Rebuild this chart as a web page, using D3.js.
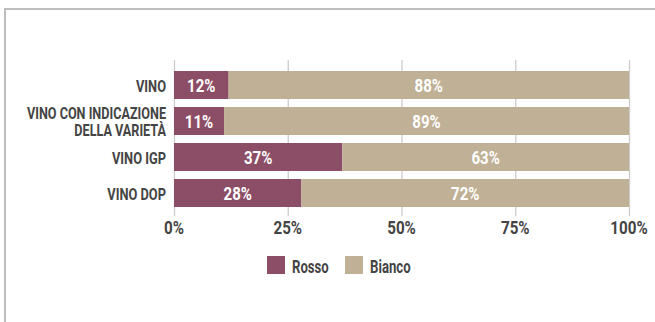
<!DOCTYPE html>
<html><head><meta charset="utf-8">
<script src="https://cdn.jsdelivr.net/npm/d3@7"></script>
<style>
html,body{margin:0;padding:0;background:#fff;}
svg{display:block;}
text{font-family:Roboto,"Noto Sans",sans-serif;font-weight:bold;}
</style></head>
<body>
<svg id="c" width="655" height="322"></svg>
<script>
const categories = [["VINO"], ["VINO CON INDICAZIONE","DELLA VARIETÀ"], ["VINO IGP"], ["VINO DOP"]];
const rosso = [12, 11, 37, 28];
const bianco = [88, 89, 63, 72];
const seriesNames = ["Rosso", "Bianco"];
const colors = ["#8c4d66", "#bfb096"];
const ticks = [0, 25, 50, 75, 100];

const svg = d3.select("#c");
// frame
svg.append("line").attr("x1",5).attr("x2",5).attr("y1",8).attr("y2",322).attr("stroke","#bdbdbd").attr("stroke-width",2);
svg.append("line").attr("x1",4).attr("x2",655).attr("y1",9).attr("y2",9).attr("stroke","#bdbdbd").attr("stroke-width",2);

const x = d3.scaleLinear().domain([0,100]).range([174,629]);
const y = d3.scaleBand().domain(d3.range(categories.length)).range([67,211]).paddingInner(8/36).paddingOuter(4/36);

function label(parent, tx, ty, str, size, sx, anchor, fill){
  return parent.append("text")
    .attr("transform",`translate(${tx},${ty}) scale(${sx},1)`)
    .attr("text-anchor",anchor).attr("font-size",size).attr("fill",fill).text(str);
}

// grid
svg.append("g").selectAll("line").data(ticks).join("line")
  .attr("x1",d=>x(d)+0.5).attr("x2",d=>x(d)+0.5).attr("y1",60).attr("y2",216)
  .attr("stroke","#cccccc").attr("stroke-width",1.3);

const stacked = categories.map((c,i)=>[{s:0,x0:0,x1:rosso[i],v:rosso[i]},{s:1,x0:rosso[i],x1:rosso[i]+bianco[i],v:bianco[i]}]);
const rows = svg.append("g").selectAll("g").data(stacked).join("g");
rows.each(function(segs,i){
  const g = d3.select(this);
  g.selectAll("rect").data(segs).join("rect")
    .attr("x",d=>x(d.x0)).attr("width",d=>x(d.x1)-x(d.x0))
    .attr("y",y(i)).attr("height",y.bandwidth())
    .attr("fill",d=>colors[d.s]);
  segs.forEach(d=>{
    label(g,(x(d.x0)+x(d.x1))/2, y(i)+y.bandwidth()/2+6.7, d.v+"%", 18.8, 0.8, "middle", "#ffffff");
  });
});

// category labels
categories.forEach((lines,i)=>{
  const cy = y(i)+y.bandwidth()/2;
  if(lines.length===1){
    label(svg,166,cy+7.3,lines[0],16.9,0.76,"end","#444444");
  } else {
    label(svg,166,cy-2.3,lines[0],16,0.79,"end","#444444");
    label(svg,166,cy+15,lines[1],16,0.79,"end","#444444");
  }
});

// x axis tick labels
ticks.forEach(d=>label(svg,x(d),234.3,d+"%",17.7,0.86,"middle","#444444"));

// legend
const legX = [267, 345];
seriesNames.forEach((n,i)=>{
  svg.append("rect").attr("x",legX[i]).attr("y",256).attr("width",18).attr("height",18).attr("fill",colors[i]);
  label(svg,legX[i]+25,272.7,n,18.8,0.7,"start","#444444");
});
</script>
</body></html>
